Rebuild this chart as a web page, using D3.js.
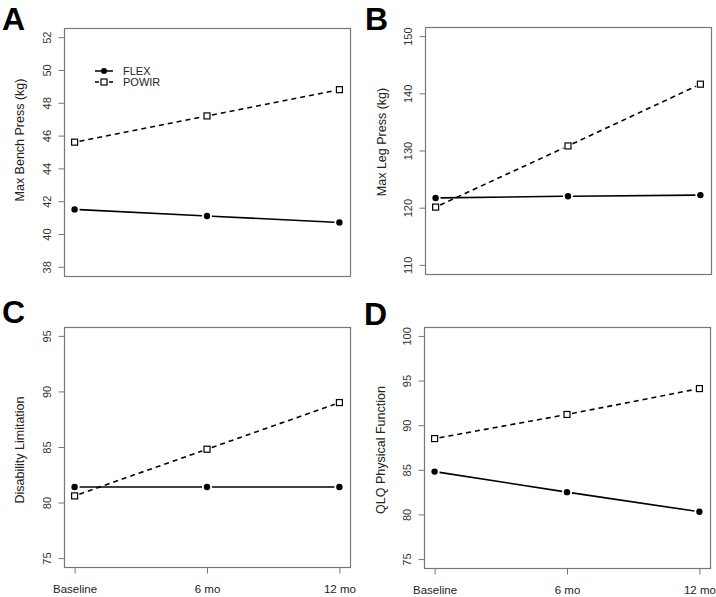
<!DOCTYPE html>
<html>
<head>
<meta charset="utf-8">
<script src="https://cdn.jsdelivr.net/npm/d3@7"></script>
<style>
  html, body { margin: 0; padding: 0; background: #fff; }
  svg { display: block; font-family: "Liberation Sans", Arial, sans-serif; }
</style>
</head>
<body>
<svg id="chart" width="716" height="597"></svg>
<script>
// ---- Data ----
const timepoints = ["Baseline", "6 mo", "12 mo"];
const seriesNames = ["FLEX", "POWIR"];

const benchFlex  = [41.5, 41.1, 40.7];
const benchPowir = [45.6, 47.2, 48.8];
const benchTicks = [38, 40, 42, 44, 46, 48, 50, 52];

const legFlex  = [121.7, 122.0, 122.2];
const legPowir = [120.1, 130.8, 141.6];
const legTicks = [110, 120, 130, 140, 150];

const disFlex  = [81.4, 81.4, 81.4];
const disPowir = [80.6, 84.8, 89.0];
const disTicks = [75, 80, 85, 90, 95];

const qlqFlex  = [84.8, 82.5, 80.3];
const qlqPowir = [88.5, 91.2, 94.1];
const qlqTicks = [75, 80, 85, 90, 95, 100];

const panelLetters = ["A", "B", "C", "D"];
const yTitles = ["Max Bench Press (kg)", "Max Leg Press (kg)", "Disability Limitation", "QLQ Physical Function"];

// ---- Layout ----
const panels = [
  { letter: panelLetters[0], title: yTitles[0], flex: benchFlex, powir: benchPowir, ticks: benchTicks,
    box: { l: 64, r: 350, t: 28, b: 276 }, letterPos: [2, 30], titleX: 24, titleY: 140, xAxis: false, legend: true },
  { letter: panelLetters[1], title: yTitles[1], flex: legFlex, powir: legPowir, ticks: legTicks,
    box: { l: 425, r: 711, t: 27, b: 274 }, letterPos: [365, 30], titleX: 386, titleY: 142, xAxis: false, legend: false },
  { letter: panelLetters[2], title: yTitles[2], flex: disFlex, powir: disPowir, ticks: disTicks,
    box: { l: 64, r: 350, t: 327, b: 567 }, letterPos: [2, 323], titleX: 24, titleY: 450, xAxis: true, legend: false },
  { letter: panelLetters[3], title: yTitles[3], flex: qlqFlex, powir: qlqPowir, ticks: qlqTicks,
    box: { l: 424, r: 710, t: 327, b: 568 }, letterPos: [364, 325], titleX: 385, titleY: 450, xAxis: true, legend: false }
];

const svg = d3.select("#chart");
const gap = 5;

function segmentsWithGaps(pts) {
  const segs = [];
  for (let i = 0; i < pts.length - 1; i++) {
    const [x1, y1] = pts[i], [x2, y2] = pts[i + 1];
    const dx = x2 - x1, dy = y2 - y1, len = Math.hypot(dx, dy);
    if (len <= 2 * gap) continue;
    const ux = dx / len, uy = dy / len;
    segs.push([[x1 + ux * gap, y1 + uy * gap], [x2 - ux * gap, y2 - uy * gap]]);
  }
  return segs;
}

const line = d3.line();

panels.forEach(p => {
  const g = svg.append("g");
  const lo = p.ticks[0], hi = p.ticks[p.ticks.length - 1], pad = (hi - lo) * 0.04;
  const y = d3.scaleLinear().domain([lo - pad, hi + pad]).range([p.box.b, p.box.t]);
  const x = d3.scalePoint().domain(timepoints).range([p.box.l, p.box.r]).padding(0.08);

  // box
  g.append("rect")
    .attr("x", p.box.l + 0.5).attr("y", p.box.t + 0.5)
    .attr("width", p.box.r - p.box.l).attr("height", p.box.b - p.box.t)
    .attr("fill", "none").attr("stroke", "#777").attr("stroke-width", 1.2);

  // y axis
  const ya = g.append("g").attr("transform", `translate(${p.box.l + 0.5},0)`)
    .call(d3.axisLeft(y).tickValues(p.ticks).tickSize(6).tickFormat(d3.format("d")));
  ya.select(".domain").remove();
  ya.selectAll(".tick line").attr("stroke", "#777");
  ya.selectAll(".tick text")
    .attr("x", 0).attr("y", -14).attr("dy", 0)
    .attr("transform", "rotate(-90)")
    .attr("text-anchor", "middle")
    .attr("fill", "#333")
    .style("font-size", "11px")
    .style("font-family", "'Liberation Sans', Arial, sans-serif");

  // x axis
  if (p.xAxis) {
    const xa = g.append("g").attr("transform", `translate(0,${p.box.b + 0.5})`)
      .call(d3.axisBottom(x).tickSize(6).tickPadding(11));
    xa.select(".domain").remove();
    xa.selectAll(".tick line").attr("stroke", "#777");
    xa.selectAll(".tick text")
      .attr("fill", "#222")
      .style("font-size", "11.5px")
      .style("font-family", "'Liberation Sans', Arial, sans-serif");
  }

  // y title
  g.append("text")
    .attr("transform", `translate(${p.titleX},${p.titleY}) rotate(-90)`)
    .attr("text-anchor", "middle")
    .attr("fill", "#222")
    .style("font-size", "12.5px")
    .text(p.title);

  // panel letter
  g.append("text")
    .attr("x", p.letterPos[0]).attr("y", p.letterPos[1])
    .attr("font-weight", "bold")
    .style("font-size", "32px")
    .attr("fill", "#000")
    .text(p.letter);

  // series
  const flexPts = timepoints.map((t, i) => [x(t), y(p.flex[i])]);
  const powPts = timepoints.map((t, i) => [x(t), y(p.powir[i])]);

  segmentsWithGaps(flexPts).forEach(s => {
    g.append("path").attr("d", line(s)).attr("stroke", "#000").attr("stroke-width", 1.6).attr("fill", "none");
  });
  segmentsWithGaps(powPts).forEach(s => {
    g.append("path").attr("d", line(s)).attr("stroke", "#000").attr("stroke-width", 1.6)
      .attr("stroke-dasharray", "5,4").attr("fill", "none");
  });

  g.selectAll("circle.flex").data(flexPts).enter().append("circle")
    .attr("cx", d => d[0]).attr("cy", d => d[1]).attr("r", 3.2).attr("fill", "#000");
  g.selectAll("rect.pow").data(powPts).enter().append("rect")
    .attr("x", d => d[0] - 3).attr("y", d => d[1] - 3).attr("width", 6).attr("height", 6)
    .attr("fill", "#fff").attr("stroke", "#000").attr("stroke-width", 1.2);

  // legend
  if (p.legend) {
    const lx = 95, lw = 18, rows = [71, 82];
    seriesNames.forEach((name, i) => {
      const ly = rows[i];
      const lg = g.append("g");
      lg.append("line").attr("x1", lx).attr("x2", lx + lw).attr("y1", ly).attr("y2", ly)
        .attr("stroke", "#000").attr("stroke-width", 1.5)
        .attr("stroke-dasharray", i === 0 ? null : "4,3");
      if (i === 0) {
        lg.append("circle").attr("cx", lx + lw / 2).attr("cy", ly).attr("r", 3).attr("fill", "#000");
      } else {
        lg.append("rect").attr("x", lx + lw / 2 - 3).attr("y", ly - 3).attr("width", 6).attr("height", 6)
          .attr("fill", "#fff").attr("stroke", "#000").attr("stroke-width", 1.2);
      }
      lg.append("text").attr("x", 123).attr("y", ly + 4)
        .style("font-size", "11px").attr("fill", "#222").text(name);
    });
  }
});
</script>
</body>
</html>
